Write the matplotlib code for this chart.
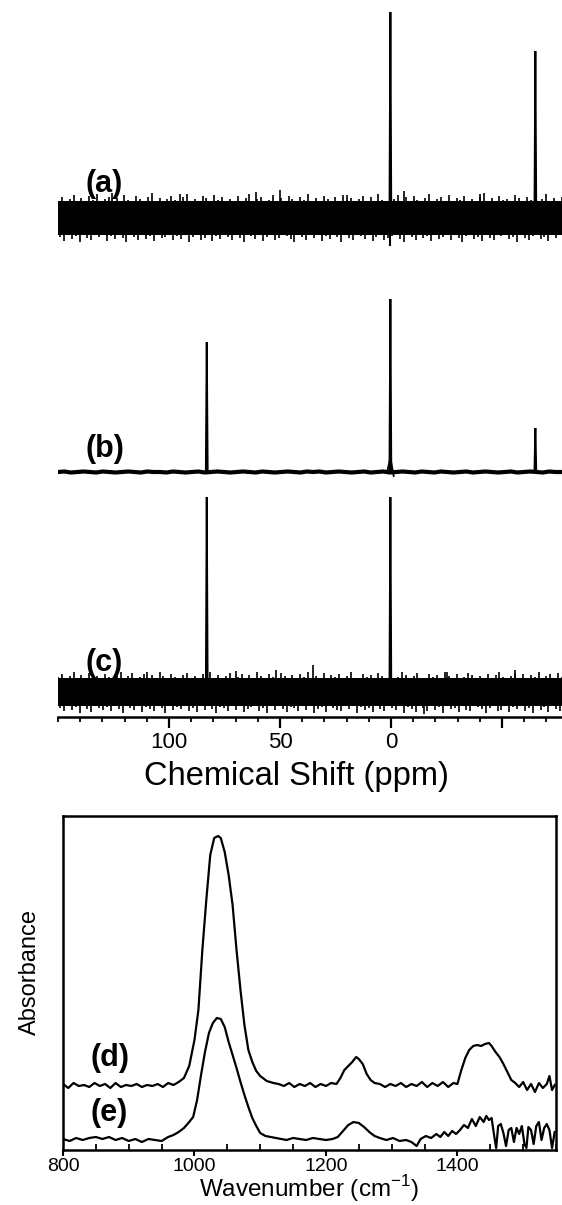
import numpy as np
import matplotlib
matplotlib.use("Agg")
import matplotlib.pyplot as plt
from matplotlib.ticker import FixedLocator, MultipleLocator

plt.rcParams['font.family'] = ['Liberation Sans', 'DejaVu Sans']
plt.rcParams['mathtext.fontset'] = 'custom'
plt.rcParams['mathtext.rm'] = 'Liberation Sans'

# ---------------- NMR data (chemical shift, ppm) ----------------
ppm_range = [150, -77]
nmr_ticks = [100, 50, 0, -50]
nmr_tick_labels = ['100', '50', '0', '']
nmr_labels = ['(a)', '(b)', '(c)']
nmr_baselines = [499, 245, 25]           # vertical offsets (arb. units)

# peaks: positions (ppm) and heights above baseline
peaks_a_pos = [0.3, -65.0]
peaks_a_h = [206, 167]
peaks_b_pos = [83.0, 0.3, -65.0]
peaks_b_h = [130, 173, 44]
peaks_c_pos = [83.0, 0.3]
peaks_c_h = [195, 195]

# noise (a): upper / lower excursions from baseline
noise_a_upper = [17, 21, 15, 19, 23, 16, 20, 14, 22, 18, 24, 16, 19, 21, 15, 20, 17, 23, 18, 14,
                 22, 19, 16, 21, 25, 17, 20, 15, 19, 22, 18, 14, 21, 24, 17, 19, 16, 22, 20, 15,
                 23, 18, 21, 16, 19, 14, 22, 17, 20, 24, 16, 19, 21, 15, 18, 23, 17, 20, 14, 22,
                 19, 16, 21, 18, 24, 15, 20, 17, 22, 19, 14, 21, 16, 23, 18, 20, 15, 19, 22, 17,
                 21, 14, 24, 18, 16, 20, 19, 23, 15, 21, 17, 22, 18, 14, 20, 24, 16, 19, 21, 15,
                 23, 17, 20, 18, 22, 16, 19, 14, 21, 25, 17, 20, 15, 22, 18, 19, 16, 23, 20, 14,
                 21, 18, 22, 16, 19, 24, 15, 20, 17, 21]
noise_a_lower = [-19, -23, -16, -21, -18, -24, -15, -20, -22, -17, -19, -14, -23, -18, -21, -16,
                 -20, -24, -17, -19, -22, -15, -21, -18, -23, -16, -20, -19, -14, -22, -18, -21,
                 -17, -24, -19, -15, -22, -20, -16, -23, -18, -21, -14, -19, -22, -17, -20, -24,
                 -16, -18, -21, -15, -23, -19, -17, -22, -20, -14, -18, -21, -24, -16, -19, -22,
                 -17, -20, -15, -23, -18, -21, -16, -19, -24, -14, -20, -22, -17, -18, -21, -15,
                 -23, -19, -16, -22, -20, -18, -14, -21, -24, -17, -19, -22, -15, -20, -18, -23,
                 -16, -21, -19, -14, -22, -17, -20, -24, -18, -16, -21, -19, -23, -15, -20, -22,
                 -17, -18, -14, -21, -19, -24, -16, -20, -22, -18, -15, -21, -19, -23, -17, -20,
                 -16, -22]
spikes_a_pos = [125.7, 61.0, 50.0, -6.0, 95.0, 20.0, -40.0]
spikes_a_h = [25, 26, 28, 27, 24, 23, 24]

# (b): thick baseline with tiny wiggle
noise_b = [0, 0.5, -0.5, 0, 0.5, 0, -0.5, 0.5, 0, -0.5, 0, 0.5, 0, -0.5, 0.5, 0, 0, -0.5, 0.5, 0,
           -0.5, 0, 0.5, -0.5, 0, 0.5, 0, -0.5, 0, 0.5, 0, -0.5, 0.5, 0, -0.5, 0, 0.5, 0, -0.5, 0.5,
           0, 0.5, -0.5, 0, 0.5, 0, -0.5, 0, 0.5, -0.5, 0, 0.5, -0.5, 0, 0.5, 0, -0.5, 0.5, 0, -0.5,
           0.5, 0, -0.5, 0, 0.5, -0.5, 0, 0.5, 0, -0.5, 0, 0.5, -0.5, 0, 0.5, 0, -0.5, 0.5, 0, 0]

# (c)
noise_c_upper = [15, 18, 12, 16, 20, 13, 17, 11, 19, 14, 16, 13, 18, 15, 12, 17, 20, 14, 16, 19,
                 13, 15, 18, 12, 17, 14, 20, 16, 13, 18, 15, 11, 17, 19, 14, 16, 13, 18, 15, 20,
                 12, 17, 14, 16, 19, 13, 15, 18, 11, 17, 14, 20, 16, 12, 18, 15, 13, 19, 16, 14,
                 17, 12, 18, 15, 20, 13, 16, 14, 19, 11, 17, 15, 18, 13, 16, 20, 14, 12, 18, 15,
                 17, 13, 19, 16, 14, 18, 11, 15, 20, 17, 13, 16, 19, 14, 12, 18, 15, 17, 13, 20,
                 16, 14, 18, 12, 15, 19, 17, 13, 16, 14, 18, 11, 17, 20, 15, 13, 16, 19, 14, 18,
                 12, 17, 15, 20, 13, 16, 18, 14, 19, 15]
noise_c_lower = [-16, -19, -13, -18, -15, -21, -14, -17, -20, -12, -16, -18, -15, -19, -13, -17,
                 -21, -14, -16, -18, -12, -20, -15, -17, -19, -13, -16, -21, -14, -18, -15, -17,
                 -12, -19, -16, -20, -14, -18, -13, -17, -21, -15, -16, -19, -12, -18, -14, -20,
                 -17, -15, -13, -19, -16, -21, -14, -18, -12, -17, -20, -15, -16, -19, -13, -18,
                 -14, -21, -17, -15, -20, -12, -16, -18, -19, -14, -17, -13, -21, -15, -18, -16,
                 -20, -12, -17, -19, -14, -16, -18, -13, -21, -15, -17, -20, -14, -16, -19, -12,
                 -18, -15, -21, -13, -17, -16, -20, -14, -18, -19, -12, -15, -17, -21, -16, -13,
                 -19, -18, -14, -20, -15, -17, -12, -19, -16, -21, -14, -18, -15, -20, -13, -17,
                 -19, -16]
spikes_c_pos = [35.0, 52.0, -56.0, 110.0, 70.0, -25.0]
spikes_c_h = [27, 22, 22, 20, 21, 20]
spikes_c_down_pos = [-15.0]
spikes_c_down_h = [-22]

# ---------------- IR data ----------------
wn_range = [800, 1550]
ir_ticks = [800, 1000, 1200, 1400]
ir_labels = ['(d)', '(e)']

d_wn = [800, 808, 816, 824, 832, 840, 848, 856, 864, 872, 880, 888, 896, 904, 912, 920, 928, 936,
        944, 952, 960, 968, 976, 984, 992, 1000, 1006, 1012, 1018, 1024, 1030, 1036, 1040, 1046,
        1052, 1058, 1064, 1070, 1076, 1082, 1088, 1094, 1100, 1110, 1120, 1128, 1136, 1144, 1152,
        1160, 1168, 1176, 1184, 1192, 1200, 1208, 1216, 1222, 1228, 1234, 1240, 1246, 1250, 1256,
        1262, 1268, 1274, 1282, 1290, 1298, 1306, 1314, 1322, 1330, 1338, 1346, 1354, 1362, 1370,
        1378, 1386, 1394, 1400, 1406, 1412, 1418, 1424, 1430, 1436, 1442, 1448, 1452, 1458, 1464,
        1470, 1476, 1482, 1488, 1494, 1500, 1506, 1512, 1518, 1524, 1530, 1536, 1540, 1544, 1548]
d_abs = [66, 62, 67, 64, 65, 63, 67, 64, 66, 62, 67, 63, 65, 64, 66, 63, 65, 64,
         66, 63, 67, 65, 68, 72, 84, 110, 140, 200, 250, 295, 312, 314, 312, 298,
         275, 245, 200, 160, 125, 100, 88, 79, 74, 69, 67, 66, 64, 67, 63,
         66, 64, 67, 63, 66, 64, 67, 66, 72, 80, 84, 88, 93, 91, 86,
         76, 70, 67, 66, 63, 66, 64, 67, 63, 66, 64, 68, 63, 67, 64,
         68, 63, 67, 66, 80, 92, 100, 104, 105, 104, 106, 107, 104, 98, 93,
         86, 78, 70, 67, 63, 68, 60, 66, 58, 67, 62, 66, 74, 60, 65]

e_wn = [800, 810, 820, 830, 840, 850, 860, 870, 880, 890, 900, 910, 920, 930, 940, 950, 960, 968,
        976, 984, 992, 998, 1004, 1010, 1016, 1022, 1028, 1034, 1040, 1046, 1052, 1058, 1064, 1070,
        1076, 1082, 1088, 1094, 1100, 1108, 1116, 1124, 1132, 1140, 1150, 1160, 1170, 1180, 1190,
        1200, 1210, 1218, 1226, 1234, 1242, 1250, 1258, 1266, 1274, 1282, 1292, 1302, 1312, 1322,
        1330, 1338, 1344, 1352, 1360, 1368, 1374, 1380, 1386, 1392, 1398, 1404, 1410, 1416, 1422,
        1428, 1434, 1440, 1444, 1448, 1452, 1456, 1459, 1462, 1466, 1470, 1474, 1478, 1482, 1486,
        1490, 1494, 1498, 1502, 1505, 1508, 1512, 1516, 1520, 1524, 1528, 1532, 1536, 1540, 1544,
        1548]
e_abs = [11, 9, 12, 10, 12, 13, 11, 13, 10, 12, 9, 11, 8, 11, 10, 9, 13, 15,
         18, 22, 28, 33, 50, 75, 98, 117, 127, 132, 131, 123, 108, 95, 82, 68,
         55, 43, 32, 24, 17, 14, 13, 12, 11, 10, 12, 11, 10, 12, 11,
         10, 11, 13, 19, 25, 28, 27, 23, 18, 14, 12, 10, 12, 9, 10,
         8, 4, 11, 14, 12, 16, 13, 18, 14, 19, 16, 20, 25, 22, 31,
         24, 33, 28, 34, 30, 32, 14, 2, 24, 26, 17, 4, 20, 22, 8,
         22, 16, 24, 6, 2, 23, 20, 6, 24, 28, 10, 22, 26, 20, 2,
         18]

# ---------------- figure ----------------
W, H = 562, 1205
fig = plt.figure(figsize=(W / 100, H / 100), dpi=100)

# NMR axes
ax1 = fig.add_axes([58 / W, 1 - 717 / H, 1 - 58 / W, 717 / H])
ax1.set_xlim(*ppm_range)
ax1.set_ylim(0, 717)


def band(ax, base, upper, lower, core_top, core_bot, spikes_pos=(), spikes_h=()):
    # solid core of the dense noise
    ax.fill_between(ppm_range, base + core_bot, base + core_top, color='black', lw=0)
    # individual noise excursions
    xu = np.linspace(ppm_range[0], ppm_range[1], len(upper))
    xl = np.linspace(ppm_range[0] - 0.9, ppm_range[1] - 0.9, len(lower))
    ax.vlines(xu, base, base + np.array(upper), color='black', lw=1.2)
    ax.vlines(xl, base + np.array(lower), base, color='black', lw=1.2)
    if len(spikes_pos):
        ax.vlines(spikes_pos, base, base + np.array(spikes_h), color='black', lw=1.2)


def peaks(ax, base, pos, h):
    for p, hh in zip(pos, h):
        ax.plot([p + 0.4, p, p - 0.4], [base, base + hh, base], color='black', lw=1.4,
                solid_joinstyle='miter')


# (a)
band(ax1, nmr_baselines[0], noise_a_upper, noise_a_lower, 17, -17, spikes_a_pos, spikes_a_h)
peaks(ax1, nmr_baselines[0], peaks_a_pos, peaks_a_h)
ax1.vlines([0.3], nmr_baselines[0] - 28, nmr_baselines[0], color='black', lw=1.5)

# (b)
xb = np.linspace(ppm_range[0], ppm_range[1], len(noise_b))
ax1.plot(xb, nmr_baselines[1] + np.array(noise_b), color='black', lw=3.0)
peaks(ax1, nmr_baselines[1], peaks_b_pos, peaks_b_h)
ax1.plot([1.8, 0.5, 0.3, 0.1, -1.2], [nmr_baselines[1], nmr_baselines[1] + 12,
                                       nmr_baselines[1] + 30, nmr_baselines[1] + 12,
                                       nmr_baselines[1] - 4], color='black', lw=1.3)

# (c)
band(ax1, nmr_baselines[2], noise_c_upper, noise_c_lower, 14, -14, spikes_c_pos, spikes_c_h)
ax1.vlines(spikes_c_down_pos, nmr_baselines[2] + np.array(spikes_c_down_h), nmr_baselines[2],
           color='black', lw=1.2)
peaks(ax1, nmr_baselines[2], peaks_c_pos, peaks_c_h)

label_y = [533, 268, 54]
for lab, yy in zip(nmr_labels, label_y):
    ax1.text(137.5, yy, lab, fontsize=22, fontweight='bold', ha='left', va='center')

for s in ['top', 'left', 'right']:
    ax1.spines[s].set_visible(False)
ax1.spines['bottom'].set_linewidth(1.8)
ax1.set_yticks([])
ax1.xaxis.set_major_locator(FixedLocator(nmr_ticks))
ax1.set_xticklabels(nmr_tick_labels)
ax1.xaxis.set_minor_locator(MultipleLocator(10))
ax1.tick_params(axis='x', which='major', direction='out', length=8, width=1.6,
                labelsize=16, pad=3)
ax1.tick_params(axis='x', which='minor', direction='out', length=3.5, width=1.3)
ax1.set_xlabel('Chemical Shift (ppm)', fontsize=23.5)
ax1.xaxis.set_label_coords(0.474, -0.062)

# IR axes
ax2 = fig.add_axes([63 / W, 1 - 1150 / H, (556 - 63) / W, (1150 - 816) / H])
ax2.set_xlim(*wn_range)
ax2.set_ylim(0, 334)
ax2.plot(d_wn, d_abs, color='black', lw=1.6)
ax2.plot(e_wn, e_abs, color='black', lw=1.6)
ax2.text(842, 92, ir_labels[0], fontsize=22, fontweight='bold', ha='left', va='center')
ax2.text(842, 37, ir_labels[1], fontsize=22, fontweight='bold', ha='left', va='center')
for s in ax2.spines.values():
    s.set_linewidth(1.8)
ax2.set_yticks([])
ax2.xaxis.set_major_locator(FixedLocator(ir_ticks))
ax2.xaxis.set_minor_locator(MultipleLocator(50))
ax2.tick_params(axis='x', which='major', direction='out', length=4, width=1.5,
                labelsize=14, pad=2)
ax2.tick_params(axis='x', which='minor', direction='in', length=4, width=1.3)
ax2.set_xlabel('Wavenumber (cm$^{-1}$)', fontsize=17.5)
ax2.xaxis.set_label_coords(0.5, -0.07)
ax2.set_ylabel('Absorbance', fontsize=17)
ax2.yaxis.set_label_coords(-0.045, 0.533)

fig.savefig('out.png', dpi=100)
